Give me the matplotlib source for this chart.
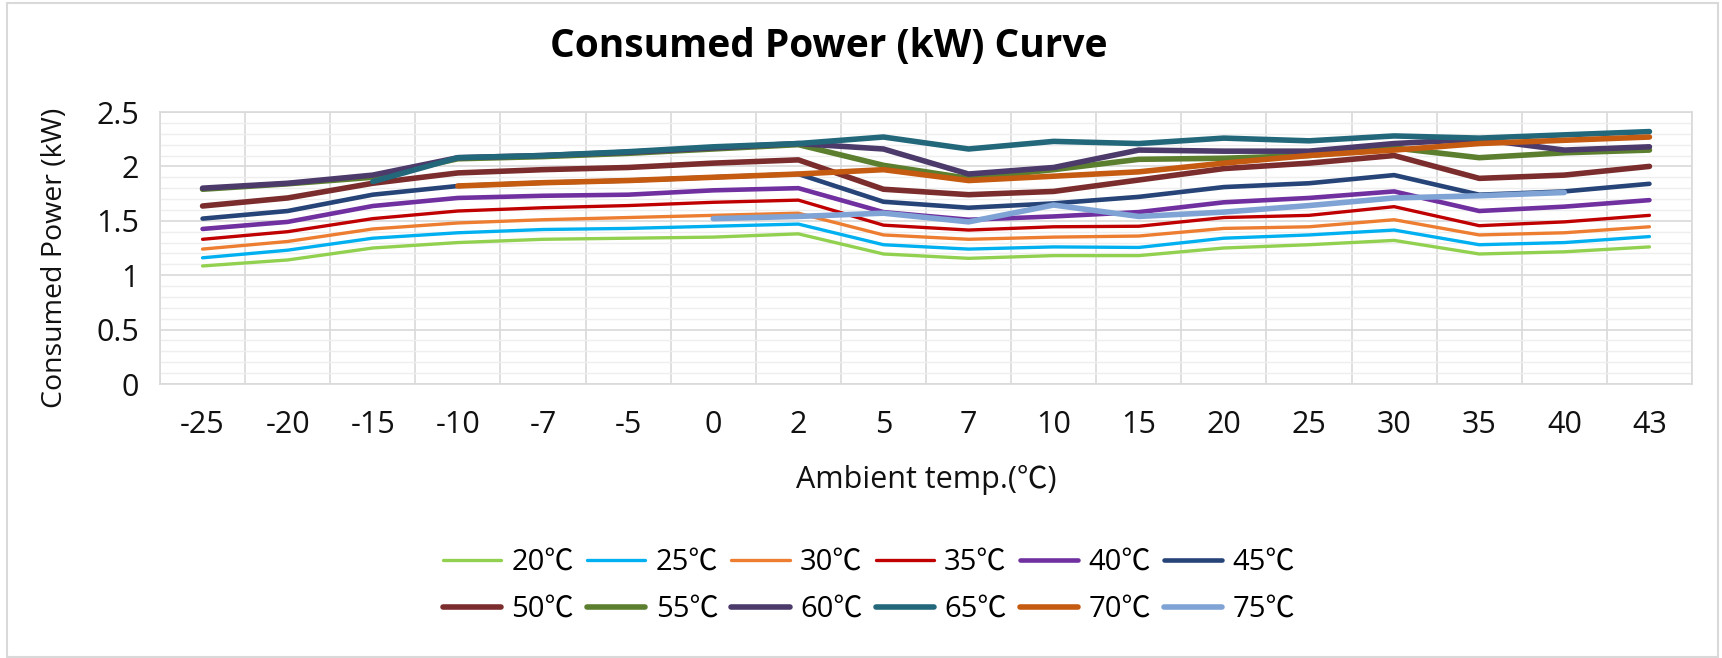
import numpy as np
import matplotlib.pyplot as plt
from matplotlib.ticker import FixedLocator, MultipleLocator, FormatStrFormatter

plt.rcParams['font.family'] = ['Open Sans', 'Noto Sans CJK SC', 'DejaVu Sans']

# ambient temperature categories
ambient = ['-25', '-20', '-15', '-10', '-7', '-5', '0', '2', '5', '7',
           '10', '15', '20', '25', '30', '35', '40', '43']

nan = np.nan
# consumed power (kW) per water outlet temperature
p20 = [1.085, 1.14, 1.25, 1.30, 1.33, 1.34, 1.35, 1.38, 1.195, 1.155,
       1.18, 1.18, 1.25, 1.28, 1.32, 1.195, 1.215, 1.26]
p25 = [1.16, 1.23, 1.34, 1.39, 1.42, 1.43, 1.45, 1.47, 1.28, 1.24,
       1.26, 1.255, 1.34, 1.37, 1.415, 1.28, 1.30, 1.355]
p30 = [1.24, 1.31, 1.425, 1.48, 1.51, 1.53, 1.55, 1.57, 1.37, 1.33,
       1.35, 1.36, 1.43, 1.445, 1.51, 1.37, 1.39, 1.445]
p35 = [1.33, 1.40, 1.52, 1.59, 1.62, 1.64, 1.67, 1.69, 1.46, 1.415,
       1.445, 1.45, 1.53, 1.55, 1.63, 1.455, 1.49, 1.55]
p40 = [1.425, 1.49, 1.636, 1.71, 1.73, 1.74, 1.78, 1.80, 1.58, 1.51,
       1.54, 1.58, 1.67, 1.71, 1.77, 1.59, 1.63, 1.69]
p45 = [1.52, 1.59, 1.74, 1.82, 1.85, 1.87, 1.90, 1.93, 1.675, 1.62,
       1.66, 1.72, 1.81, 1.845, 1.92, 1.74, 1.77, 1.84]
p50 = [1.636, 1.71, 1.845, 1.94, 1.97, 1.99, 2.03, 2.06, 1.79, 1.74,
       1.77, 1.875, 1.98, 2.03, 2.10, 1.89, 1.92, 2.00]
p55 = [1.79, 1.84, 1.90, 2.07, 2.09, 2.12, 2.16, 2.20, 2.01, 1.89,
       1.97, 2.065, 2.075, 2.10, 2.17, 2.08, 2.125, 2.15]
p60 = [1.80, 1.845, 1.92, 2.08, 2.10, 2.13, 2.17, 2.21, 2.16, 1.93,
       1.99, 2.15, 2.14, 2.14, 2.21, 2.25, 2.15, 2.18]
p65 = [nan, nan, 1.86, 2.08, 2.10, 2.135, 2.18, 2.21, 2.27, 2.16,
       2.23, 2.21, 2.26, 2.235, 2.28, 2.26, 2.29, 2.32]
p70 = [nan, nan, nan, 1.82, 1.85, 1.87, 1.90, 1.93, 1.97, 1.87,
       1.91, 1.95, 2.03, 2.10, 2.15, 2.21, 2.24, 2.27]
p75 = [nan, nan, nan, nan, nan, nan, 1.52, 1.54, 1.57, 1.49,
       1.645, 1.54, 1.58, 1.64, 1.71, 1.73, 1.76, nan]

labels = ['20℃', '25℃', '30℃', '35℃', '40℃', '45℃',
          '50℃', '55℃', '60℃', '65℃', '70℃', '75℃']
series = [p20, p25, p30, p35, p40, p45, p50, p55, p60, p65, p70, p75]
colors = ['#92d050', '#00b0f0', '#ed7d31', '#c00000', '#7030a0', '#264478',
          '#7b2c2c', '#5b7f2e', '#4b3a6a', '#22687a', '#c55a11', '#7fa3d4']
widths = [2.4, 2.4, 2.4, 2.4, 3.3, 3.3, 4.0, 4.0, 4.0, 4.0, 4.0, 4.0]

fig = plt.figure(figsize=(17.22, 6.58), dpi=100)
ax = fig.add_axes([160/1722, 1 - 384/658, 1532/1722, 272/658])

x = np.arange(len(ambient))
handles = []
for vals, lab, c, lw in zip(series, labels, colors, widths):
    h, = ax.plot(x, np.array(vals, dtype=float), color=c, lw=lw, label=lab,
                 solid_capstyle='round', solid_joinstyle='round')
    handles.append(h)

ax.set_xlim(-0.5, len(ambient) - 0.5)
ax.set_ylim(0, 2.5)
ax.set_xticks(x)
ax.set_xticklabels(ambient)
ax.xaxis.set_minor_locator(FixedLocator(np.arange(-0.5, len(ambient), 1)))
ax.yaxis.set_major_locator(MultipleLocator(0.5))
ax.yaxis.set_minor_locator(MultipleLocator(0.1))
ax.yaxis.set_major_formatter(FormatStrFormatter('%g'))

ax.grid(axis='x', which='minor', color='#d9d9d9', lw=1.2)
ax.grid(axis='y', which='major', color='#d9d9d9', lw=1.2)
ax.grid(axis='y', which='minor', color='#eeeeee', lw=1.0)
ax.set_axisbelow(True)
for s in ax.spines.values():
    s.set_color('#d9d9d9')
    s.set_linewidth(1.2)
ax.tick_params(which='both', length=0)
ax.tick_params(axis='x', pad=19, labelsize=22, labelcolor='#111111')
ax.tick_params(axis='y', pad=15, labelsize=22, labelcolor='#111111')

ax.set_xlabel('Ambient temp.(℃)', fontsize=22, color='#111111', va='center')
ax.xaxis.set_label_coords(0.5, (384 - 480) / 272)
ax.set_ylabel('Consumed Power (kW)', fontsize=20.5, color='#111111', va='center')
ax.yaxis.set_label_coords((55 - 160) / 1532, (384 - 258) / 272)

fig.text(0.481, 1 - 47/658, 'Consumed Power (kW) Curve', ha='center',
         va='center', fontsize=28, fontweight='bold')

# legend fills row by row: 20-45 on top, 50-75 below
order = [0, 6, 1, 7, 2, 8, 3, 9, 4, 10, 5, 11]
fig.legend([handles[i] for i in order], [labels[i] for i in order],
           loc='center', bbox_to_anchor=(869/1722, 1 - 586/658), ncol=6,
           frameon=False, fontsize=21, handlelength=2.0, handletextpad=0.35,
           columnspacing=0.45, labelspacing=0.62)

# outer chart border
fig.add_artist(plt.Rectangle((7/1722, 0.002), 1711/1722, 1 - 3/658 - 0.002,
                             transform=fig.transFigure, fill=False,
                             edgecolor='#d9d9d9', lw=1.5))

fig.savefig('out.png', dpi=100)
